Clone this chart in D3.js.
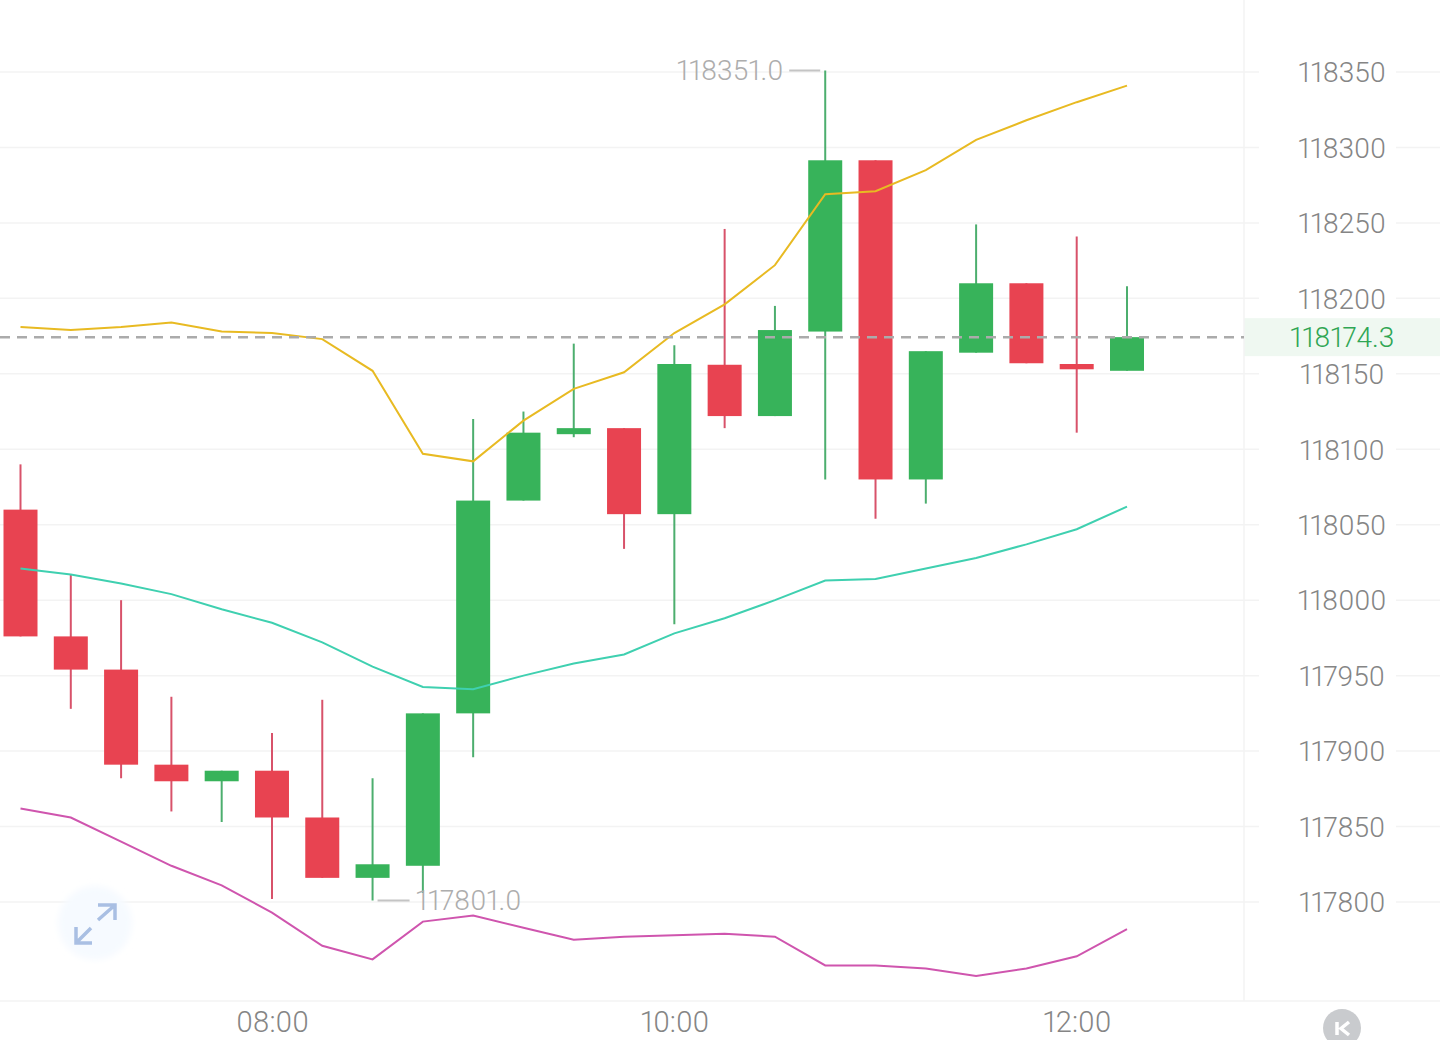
<!DOCTYPE html>
<html>
<head>
<meta charset="utf-8">
<script src="https://cdn.jsdelivr.net/npm/d3@7"></script>
<style>
  html, body { margin: 0; padding: 0; background: #fff; overflow: hidden; }
  text { font-family: Roboto, sans-serif; font-weight: 300; font-variant-numeric: proportional-nums; font-feature-settings: "pnum" 1; }
</style>
</head>
<body>
<div id="chart"></div>
<script>
// 15 minute candles
const times = ["06:45","07:00","07:15","07:30","07:45","08:00","08:15","08:30","08:45","09:00","09:15","09:30",
  "09:45","10:00","10:15","10:30","10:45","11:00","11:15","11:30","11:45","12:00","12:15"];
const open  = [118060,117976,117954,117891,117880,117887,117856,117816,117824,117925,118066,118110,118114,118057,118156,118122,118178,118291.5,118080,118164,118210,118156.5,118152];
const close = [117976,117954,117891,117880,117887,117856,117816,117825,117925,118066,118111,118114,118057,118156.5,118122,118179,118291.5,118080,118165,118210,118157,118153,118174.3];
const high  = [118090,118017,118000,117936,117887,117912,117934,117882,117925,118120,118125,118170,118114,118169,118246,118195,118351,118291.5,118165,118249,118210,118241,118208];
const low   = [117976,117928,117882,117860,117853,117802,117816,117801,117806,117896,118066,118108,118034,117984,118114,118122,118080,118054,118064,118164,118157,118111,118152];

// Bollinger bands
const upper = [118181,118179,118181,118184,118178,118177,118173,118152,118097,118092,118119,118140,118151,118177,118196,118222,118269,118271,118285,118305,118318,118330,118341];
const mid   = [118021,118017,118011,118004,117994,117985,117972,117956,117942.5,117941,117950,117958,117964,117978,117988,118000,118013,118014,118021,118028,118037,118047,118062];
const lower = [117862,117856,117840,117824,117811,117793,117771,117762,117787,117791,117783,117775,117777,117778,117779,117777,117758,117758,117756,117751,117756,117764,117782];

const priceTicks = [117800,117850,117900,117950,118000,118050,118100,118150,118200,118250,118300,118350];
const timeTicks = ["08:00","10:00","12:00"];
const lastPrice = 118174.3;
const maxPrice = 118351.0;
const minPrice = 117801.0;

const width = 1440, height = 1040;
const plotRight = 1244, plotBottom = 1001;
const green = "#37b35a", red = "#e84351";
const greenWick = "#4cae6e", redWick = "#d8526a";

const svg = d3.select("#chart").append("svg")
    .attr("width", width)
    .attr("height", height)
    .style("display", "block");

const x = d3.scalePoint().domain(times).range([20.5, 1127]);
const y = d3.scaleLinear().domain([117800, 118350]).range([902, 72]);

// Last price band sits behind the axis labels
svg.append("rect")
    .attr("x", plotRight).attr("y", y(lastPrice) - 19)
    .attr("width", width - plotRight).attr("height", 38)
    .attr("fill", "#eff8f1");

// Grid lines, with a gap where the labels go
const grid = svg.append("g");
[[0, 1259], [1396, width]].forEach(([x1, x2]) => {
    grid.selectAll(null)
        .data(priceTicks)
        .enter().append("line")
        .attr("x1", x1).attr("x2", x2)
        .attr("y1", d => y(d)).attr("y2", d => y(d))
        .attr("stroke", "#f3f3f3").attr("stroke-width", 1.5);
});
svg.append("line")
    .attr("x1", 0).attr("x2", width)
    .attr("y1", plotBottom).attr("y2", plotBottom)
    .attr("stroke", "#f3f3f3").attr("stroke-width", 1.5);
svg.append("line")
    .attr("x1", plotRight).attr("x2", plotRight)
    .attr("y1", 0).attr("y2", plotBottom)
    .attr("stroke", "#f3f3f3").attr("stroke-width", 1.5);

// Price axis
const yAxisG = svg.append("g")
    .attr("transform", "translate(1342,0)")
    .call(d3.axisRight(y).tickValues(priceTicks).tickSize(0).tickPadding(0).tickFormat(d3.format("d")));
yAxisG.select(".domain").remove();
yAxisG.selectAll("text")
    .attr("text-anchor", "middle")
    .attr("dy", "0.35em")
    .attr("font-size", "28px")
    .attr("fill", "#858585")
    .style("font-family", "Roboto, sans-serif");

// Time axis
const xAxisG = svg.append("g")
    .attr("transform", `translate(0,${plotBottom})`)
    .call(d3.axisBottom(x).tickValues(timeTicks).tickSize(0).tickPadding(10));
xAxisG.select(".domain").remove();
xAxisG.selectAll("text")
    .attr("font-size", "29px")
    .attr("fill", "#858585")
    .style("font-family", "Roboto, sans-serif");

// Candles
const isUp = i => close[i] >= open[i];
const candles = svg.append("g").selectAll("g")
    .data(times)
    .enter().append("g");

candles.append("line")
    .attr("x1", d => x(d)).attr("x2", d => x(d))
    .attr("y1", (d, i) => y(high[i]))
    .attr("y2", (d, i) => y(low[i]))
    .attr("stroke", (d, i) => isUp(i) ? greenWick : redWick)
    .attr("stroke-width", 2);

candles.append("rect")
    .attr("x", d => x(d) - 17)
    .attr("width", 34)
    .attr("y", (d, i) => y(Math.max(open[i], close[i])))
    .attr("height", (d, i) => Math.abs(y(open[i]) - y(close[i])))
    .attr("fill", (d, i) => isUp(i) ? green : red);

// Band lines
const line = d3.line().x((d, i) => x(times[i])).y(d => y(d));
[[upper, "#e8ba22"], [mid, "#3fd0b0"], [lower, "#cf55ae"]].forEach(([values, color]) => {
    svg.append("path")
        .datum(values)
        .attr("d", line)
        .attr("fill", "none")
        .attr("stroke", color)
        .attr("stroke-width", 2);
});

// Last price line and label
svg.append("line")
    .attr("x1", 0).attr("x2", plotRight)
    .attr("y1", y(lastPrice)).attr("y2", y(lastPrice))
    .attr("stroke", "#ababab").attr("stroke-width", 2.5)
    .attr("stroke-dasharray", "10 7");
svg.append("text")
    .attr("x", 1342).attr("y", y(lastPrice))
    .attr("dy", "0.35em")
    .attr("text-anchor", "middle")
    .attr("font-size", "28px")
    .attr("fill", "#2fa654")
    .text(lastPrice.toFixed(1));

// High and low markers
const iMax = high.indexOf(maxPrice), iMin = low.indexOf(minPrice);
svg.append("line")
    .attr("x1", x(times[iMax]) - 36).attr("x2", x(times[iMax]) - 5)
    .attr("y1", y(maxPrice)).attr("y2", y(maxPrice))
    .attr("stroke", "#c4c4c4").attr("stroke-width", 2);
svg.append("text")
    .attr("x", x(times[iMax]) - 42).attr("y", y(maxPrice))
    .attr("dy", "0.35em")
    .attr("text-anchor", "end")
    .attr("font-size", "28px")
    .attr("fill", "#adadad")
    .text(maxPrice.toFixed(1));
svg.append("line")
    .attr("x1", x(times[iMin]) + 5).attr("x2", x(times[iMin]) + 37)
    .attr("y1", y(minPrice)).attr("y2", y(minPrice))
    .attr("stroke", "#c4c4c4").attr("stroke-width", 2);
svg.append("text")
    .attr("x", x(times[iMin]) + 43).attr("y", y(minPrice))
    .attr("dy", "0.35em")
    .attr("font-size", "28px")
    .attr("fill", "#adadad")
    .text(minPrice.toFixed(1));

// Expand button, soft edged
svg.append("defs").append("filter")
    .attr("id", "soft")
    .append("feGaussianBlur").attr("stdDeviation", 3);
const expand = svg.append("g").attr("transform", "translate(95,923)");
expand.append("circle").attr("r", 37).attr("fill", "#f6faff").attr("filter", "url(#soft)");
expand.append("path")
    .attr("d", "M3,-3 L20,-18 M3,-18 L20,-18 L20,-3 M-4,5 L-19,20 M-19,4 L-19,20 L-3,20")
    .attr("fill", "none")
    .attr("stroke", "#a9bfe3")
    .attr("stroke-width", 3.5);

// Back to latest button
const back = svg.append("g").attr("transform", "translate(1342,1028)");
back.append("circle").attr("r", 19).attr("fill", "#c9cbce");
back.append("path")
    .attr("d", "M-5,-6 L-5,7 M7,-6 L-1,0.5 L7,7")
    .attr("fill", "none")
    .attr("stroke", "#fff")
    .attr("stroke-width", 3.5);
</script>
</body>
</html>
